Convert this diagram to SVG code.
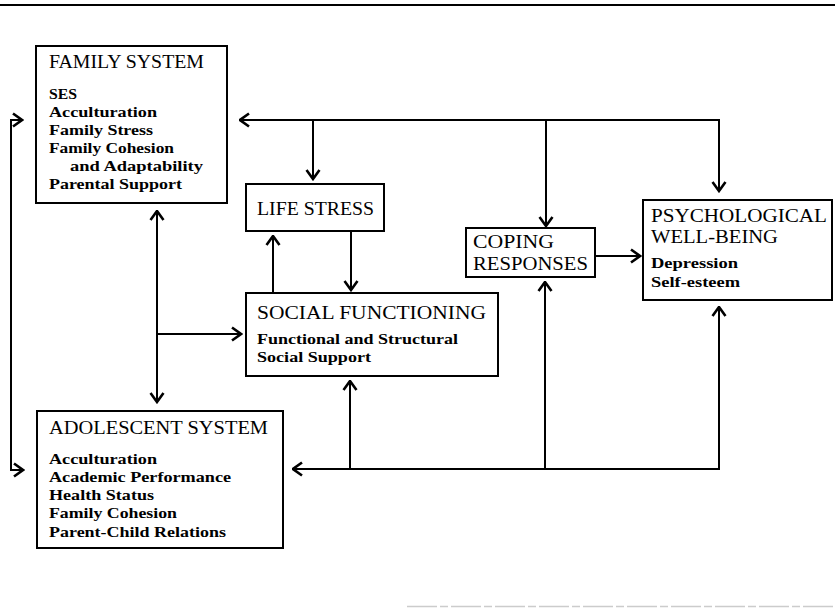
<svg xmlns="http://www.w3.org/2000/svg" width="835" height="608" viewBox="0 0 835 608">
<style>
  .box { fill: #fff; stroke: #000; stroke-width: 2; }
  .h { font-family: "Liberation Serif", "Times New Roman", serif; font-size: 18.5px; fill: #000; }
  .t { font-family: "Liberation Serif", "Times New Roman", serif; font-size: 15.5px; font-weight: bold; fill: #000; }
  .c { fill: none; stroke: #000; stroke-width: 2; }
  .a { marker-end: url(#arr); }
  .aa { marker-start: url(#arr); marker-end: url(#arr); }
</style>
<defs>
  <marker id="arr" viewBox="0 0 12 16" refX="10.5" refY="8" markerWidth="12" markerHeight="16" markerUnits="userSpaceOnUse" orient="auto-start-reverse">
    <path d="M1.5,1.5 L10.5,8 L1.5,14.5" fill="none" stroke="#000" stroke-width="2.6" stroke-linejoin="miter"/>
  </marker>
</defs>
<rect width="835" height="608" fill="#fff"/>
<line x1="0" y1="5" x2="835" y2="5" stroke="#000" stroke-width="2"/>
<line x1="407" y1="606.5" x2="833" y2="606.5" stroke="#ccc" stroke-width="1.5" stroke-dasharray="30 3 8 3"/>

<g id="connectors">
  <path class="c aa" d="M22,120 H11 V470 H23"/>
  <path class="c aa" d="M719,191 V120 H240"/>
  <path class="c a" d="M313,120 V179"/>
  <path class="c a" d="M546,120 V226"/>
  <path class="c a" d="M273,293 V236"/>
  <path class="c a" d="M351,232 V290"/>
  <path class="c a" d="M595,256 H640"/>
  <path class="c aa" d="M157,211 V402"/>
  <path class="c a" d="M157,334 H241"/>
  <path class="c aa" d="M719,307 V469 H293"/>
  <path class="c a" d="M350,469 V381"/>
  <path class="c a" d="M545,469 V282"/>
</g>

<g id="family-system">
  <rect class="box" x="36" y="46" width="191" height="157"/>
  <text class="h" x="49" y="68" textLength="155" lengthAdjust="spacingAndGlyphs">FAMILY SYSTEM</text>
  <text class="t" x="49" y="99" textLength="28" lengthAdjust="spacingAndGlyphs">SES</text>
  <text class="t" x="49" y="117" textLength="108" lengthAdjust="spacingAndGlyphs">Acculturation</text>
  <text class="t" x="49" y="135" textLength="104" lengthAdjust="spacingAndGlyphs">Family Stress</text>
  <text class="t" x="49" y="153" textLength="125" lengthAdjust="spacingAndGlyphs">Family Cohesion</text>
  <text class="t" x="70" y="170.5" textLength="133" lengthAdjust="spacingAndGlyphs">and Adaptability</text>
  <text class="t" x="49" y="188.5" textLength="133" lengthAdjust="spacingAndGlyphs">Parental Support</text>
</g>

<g id="life-stress">
  <rect class="box" x="246" y="184" width="138" height="47"/>
  <text class="h" x="257" y="215" textLength="117" lengthAdjust="spacingAndGlyphs">LIFE STRESS</text>
</g>

<g id="social-functioning">
  <rect class="box" x="246" y="293" width="252" height="83"/>
  <text class="h" x="257" y="319" textLength="229" lengthAdjust="spacingAndGlyphs">SOCIAL FUNCTIONING</text>
  <text class="t" x="257" y="344" textLength="201" lengthAdjust="spacingAndGlyphs">Functional and Structural</text>
  <text class="t" x="257" y="362" textLength="114" lengthAdjust="spacingAndGlyphs">Social Support</text>
</g>

<g id="coping-responses">
  <rect class="box" x="466" y="228" width="129" height="49"/>
  <text class="h" x="473" y="248" textLength="81" lengthAdjust="spacingAndGlyphs">COPING</text>
  <text class="h" x="473" y="270" textLength="115" lengthAdjust="spacingAndGlyphs">RESPONSES</text>
</g>

<g id="psychological-well-being">
  <rect class="box" x="643" y="200" width="189" height="100"/>
  <text class="h" x="651" y="222" textLength="176" lengthAdjust="spacingAndGlyphs">PSYCHOLOGICAL</text>
  <text class="h" x="651" y="243" textLength="127" lengthAdjust="spacingAndGlyphs">WELL-BEING</text>
  <text class="t" x="651" y="268" textLength="87" lengthAdjust="spacingAndGlyphs">Depression</text>
  <text class="t" x="651" y="287" textLength="89" lengthAdjust="spacingAndGlyphs">Self-esteem</text>
</g>

<g id="adolescent-system">
  <rect class="box" x="37" y="411" width="246" height="137"/>
  <text class="h" x="49" y="434" textLength="219" lengthAdjust="spacingAndGlyphs">ADOLESCENT SYSTEM</text>
  <text class="t" x="49" y="464" textLength="108" lengthAdjust="spacingAndGlyphs">Acculturation</text>
  <text class="t" x="49" y="482" textLength="182" lengthAdjust="spacingAndGlyphs">Academic Performance</text>
  <text class="t" x="49" y="500" textLength="105" lengthAdjust="spacingAndGlyphs">Health Status</text>
  <text class="t" x="49" y="518" textLength="128" lengthAdjust="spacingAndGlyphs">Family Cohesion</text>
  <text class="t" x="49" y="536.5" textLength="177" lengthAdjust="spacingAndGlyphs">Parent-Child Relations</text>
</g>
</svg>
